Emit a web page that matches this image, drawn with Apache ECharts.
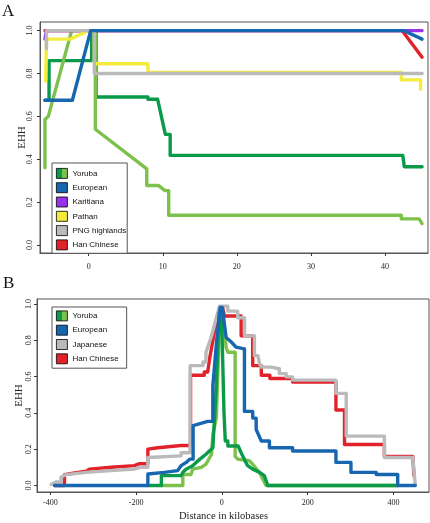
<!DOCTYPE html>
<html><head><meta charset="utf-8">
<script src="https://cdn.jsdelivr.net/npm/echarts@6/dist/echarts.min.js"></script>
<style>html,body{margin:0;padding:0;background:#fff}#c{width:430px;height:523px}</style>
</head><body><div id="c"></div>
<script>
// ---- tick values ----
const ticksAX = [0, 10, 20, 30, 40];
const ticksBX = [-400, -200, 0, 200, 400];
const ticksY = [0, 0.2, 0.4, 0.6, 0.8, 1.0];
const legendA = ['Yoruba', 'European', 'Karitiana', 'Pathan', 'PNG highlands', 'Han Chinese'];
const legendB = ['Yoruba', 'European', 'Japanese', 'Han Chinese'];

// ---- Panel A (distance, EHH) ----
const aYorubaLight = [[-5.9,0.36],[-5.9,0.585],[-5.45,0.6],[-2.3,1.0],[0.9,1.0],[0.9,0.54],[7.84,0.355],[7.84,0.278],[9.4,0.278],[10.3,0.254],[10.8,0.254],[10.8,0.139],[42.2,0.139],[42.2,0.122],[44.6,0.122],[45,0.1]];
const aYorubaDark = [[-5.9,0.675],[-5.35,0.675],[-5.35,0.86],[0.4,0.86],[0.4,1.0],[1.0,1.0],[1.0,0.69],[8.0,0.69],[8.0,0.68],[9.3,0.68],[10.35,0.516],[11.0,0.516],[11.0,0.418],[42.4,0.418],[42.6,0.41],[42.6,0.365],[45,0.365]];
const aEuropean = [[-5.9,0.675],[-2.2,0.675],[0.27,1.0],[42.5,1.0],[45,0.96]];
const aKaritiana = [[-5.9,0.96],[-5.7,1.0],[45,1.0]];
const aPathan = [[-5.8,0.765],[-5.7,0.96],[-2.5,0.96],[0,1.0],[0.76,1.0],[0.76,0.845],[8.0,0.845],[8.0,0.805],[42.2,0.805],[42.2,0.77],[44.8,0.77],[44.8,0.727]];
const aPNG = [[-5.7,0.915],[-5.7,1.0],[0.76,1.0],[0.76,0.8],[45,0.8]];
const aHan = [[-5.9,1.0],[42.3,1.0],[45,0.876]];

// ---- Panel B (distance in kb, EHH) ----
const bHan = [[-390,0],[-367,0],[-367,0.06],[-347,0.067],[-316,0.078],[-309,0.09],[-258,0.1],[-204,0.109],[-192,0.12],[-172.5,0.12],[-172.5,0.2],[-149,0.208],[-95,0.22],[-73,0.22],[-73,0.607],[-41,0.607],[-41,0.625],[-33,0.625],[-28,0.707],[-21,0.797],[-13,0.905],[-5.6,0.978],[2,0.978],[6,0.933],[45,0.933],[45,0.824],[72,0.824],[72,0.66],[92,0.66],[92,0.607],[112,0.607],[112,0.589],[165,0.589],[165,0.57],[266,0.57],[266,0.416],[286,0.416],[286,0.226],[379,0.226],[379,0.16],[445,0.16],[448,0.054]];
const bJapanese = [[-398,0.005],[-386,0.02],[-375,0.02],[-375,0.045],[-363,0.06],[-316,0.072],[-258,0.082],[-204,0.09],[-192,0.1],[-172.5,0.1],[-172.5,0.154],[-95,0.163],[-95,0.18],[-74,0.18],[-74,0.66],[-44,0.66],[-44,0.68],[-37,0.68],[-37,0.734],[-25,0.815],[-5.6,0.987],[14,0.987],[14,0.96],[37,0.96],[37,0.924],[53,0.924],[53,0.824],[76,0.824],[76,0.715],[84,0.715],[88,0.67],[92,0.67],[92,0.652],[115,0.652],[115,0.643],[134,0.643],[134,0.616],[150,0.616],[150,0.598],[165,0.598],[165,0.58],[266,0.58],[266,0.507],[290,0.507],[290,0.272],[379,0.272],[379,0.154],[445,0.154],[451,0.005]];
const bEuropean = [[-390,0],[-172.5,0],[-172.5,0.063],[-134,0.072],[-103,0.082],[-95,0.109],[-83,0.127],[-75,0.145],[-67,0.145],[-67,0.33],[-33,0.353],[-21,0.353],[-21,0.55],[-12,0.8],[-4,0.98],[1,0.98],[10,0.815],[22,0.79],[33,0.762],[52.7,0.752],[52.7,0.408],[72,0.408],[72,0.371],[80,0.371],[80,0.308],[92,0.245],[111,0.245],[111,0.208],[165,0.208],[165,0.19],[266,0.19],[266,0.127],[301,0.127],[301,0.072],[360,0.072],[360,0.06],[410,0.06],[410,0],[451,0]];
const bYorubaDark = [[-172.5,0],[-141,0],[-141,0.054],[-95,0.054],[-90,0.075],[-83,0.09],[-68,0.109],[-60,0.127],[-51,0.145],[-37,0.172],[-21,0.208],[-14,0.5],[-6,0.95],[-1,0.97],[5,0.4],[8,0.245],[14,0.245],[14,0.217],[38,0.217],[45,0.18],[60,0.109],[72,0.09],[88,0.072],[99,0.054],[107,0],[410,0]];
const bYorubaLight = [[-141,0],[-91,0],[-91,0.06],[-72,0.06],[-68,0.09],[-48,0.1],[-37,0.118],[-24,0.172],[-21,0.28],[-13,0.371],[-5,0.9],[2,0.94],[10,0.76],[14,0.734],[31,0.734],[31,0.16],[37,0.145],[64,0.136],[72,0.117],[88,0.07],[103,0],[410,0]];

// ---- styling ----
const C = {
  dark: '#0a9a4a', light: '#7cc14b', blue: '#1766b0', purple: '#9a32ea',
  yellow: '#f3ec3c', grey: '#bababa', red: '#e2222b'
};
const SERIF = 'Liberation Serif';
const SANS = 'Liberation Sans';
const LW = 3.4;

function line(name, data, color, idx) {
  return {
    type: 'line', name: name, data: data, xAxisIndex: idx, yAxisIndex: idx,
    symbol: 'none', silent: true, animation: false,
    itemStyle: { color: color },
    lineStyle: { color: color, width: LW, cap: 'round', join: 'round' }
  };
}

const yorubaSwatch = {
  type: 'linear', x: 0, y: 0, x2: 1, y2: 0,
  colorStops: [
    { offset: 0, color: C.dark }, { offset: 0.5, color: C.dark },
    { offset: 0.5, color: C.light }, { offset: 1, color: C.light }
  ]
};

function legendData(names) {
  return names.map(n => n === 'Yoruba' ? { name: n, itemStyle: { color: yorubaSwatch } } : n);
}

function xAxis(idx, min, max, ticks, margin) {
  return {
    type: 'value', gridIndex: idx, min: min, max: max,
    axisLine: { show: true, onZero: false, lineStyle: { color: '#555', width: 1 } },
    axisTick: { show: true, length: 3, customValues: ticks, lineStyle: { color: '#333' } },
    axisLabel: { customValues: ticks, fontFamily: SERIF, fontSize: 8, color: '#222', margin: margin },
    splitLine: { show: false }
  };
}
function yAxis(idx, min, max, gap, margin) {
  return {
    type: 'value', gridIndex: idx, min: min, max: max,
    name: 'EHH', nameLocation: 'middle', nameGap: gap, nameMoveOverlap: false,
    nameTextStyle: { fontFamily: SERIF, fontSize: 11, color: '#222' },
    axisLine: { show: true, onZero: false, lineStyle: { color: '#555', width: 1 } },
    axisTick: { show: true, length: 3, customValues: ticksY, lineStyle: { color: '#333' } },
    axisLabel: { customValues: ticksY, rotate: 90, fontFamily: SERIF, fontSize: 8, color: '#222', margin: margin,
      formatter: v => v.toFixed(1) },
    splitLine: { show: false }
  };
}

const legendCommon = {
  orient: 'vertical', icon: 'rect', itemWidth: 11, itemHeight: 10, itemGap: 3.5,
  selectedMode: false, borderColor: '#555', borderWidth: 1, backgroundColor: '#fff',
  itemStyle: { borderColor: '#000', borderWidth: 0.8 },
  textStyle: { fontFamily: SANS, fontSize: 8, color: '#111' }
};

const xb = xAxis(1, -431, 483, ticksBX, 6.5);
xb.name = 'Distance in kilobases';
xb.nameLocation = 'middle';
xb.nameGap = 19;
xb.nameMoveOverlap = false;
xb.nameTextStyle = { fontFamily: SERIF, fontSize: 10.5, color: '#222', padding: [0, 19, 0, 0] };

const option = {
  animation: false,
  backgroundColor: '#fff',
  title: [
    { text: 'A', left: 2, top: 3, padding: 0, textStyle: { fontFamily: SERIF, fontSize: 17, fontWeight: 'normal', color: '#111' } },
    { text: 'B', left: 3, top: 275, padding: 0, textStyle: { fontFamily: SERIF, fontSize: 17, fontWeight: 'normal', color: '#111' } }
  ],
  grid: [
    { left: 40, top: 22, width: 388, height: 231, show: true, borderColor: '#555', borderWidth: 1, containLabel: false },
    { left: 37, top: 299, width: 392, height: 196, show: true, borderColor: '#555', borderWidth: 1, containLabel: false }
  ],
  legend: [
    Object.assign({}, legendCommon, { left: 52, top: 163, padding: [5, 1, 3, 4], data: legendData(legendA) }),
    Object.assign({}, legendCommon, { left: 52, top: 307, padding: [3.5, 8, 4, 4], data: legendData(legendB) })
  ],
  xAxis: [xAxis(0, -6.57, 45.8, ticksAX, 10), xb],
  yAxis: [yAxis(0, -0.037, 1.04, 12, 6.5), yAxis(1, -0.036, 1.027, 12.5, 4.5)],
  series: [
    line('Yoruba', aYorubaDark, C.dark, 0),
    line('Yoruba', aYorubaLight, C.light, 0),
    line('Han Chinese', aHan, C.red, 0),
    line('Karitiana', aKaritiana, C.purple, 0),
    line('Pathan', aPathan, C.yellow, 0),
    line('PNG highlands', aPNG, C.grey, 0),
    line('European', aEuropean, C.blue, 0),
    line('Han Chinese', bHan, C.red, 1),
    line('Japanese', bJapanese, C.grey, 1),
    line('Yoruba', bYorubaLight, C.light, 1),
    line('Yoruba', bYorubaDark, C.dark, 1),
    line('European', bEuropean, C.blue, 1)
  ]
};

const chart = echarts.init(document.getElementById('c'), null, { renderer: 'canvas', width: 430, height: 523 });
chart.setOption(option);
</script>
</body></html>
